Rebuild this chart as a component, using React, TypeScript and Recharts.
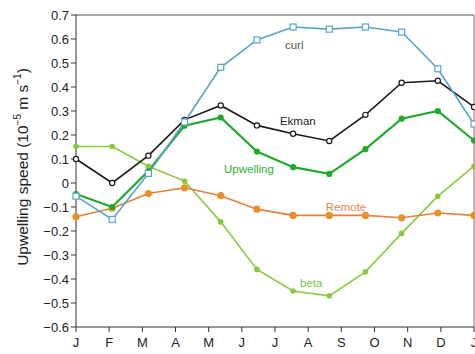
import React from 'react'
import {
  LineChart,
  Line,
  XAxis,
  YAxis,
  ReferenceLine,
  ReferenceDot,
} from 'recharts'

const months = [0, 1, 2, 3, 4, 5, 6, 7, 8, 9, 10, 11]
const tickLabels = ['J', 'F', 'M', 'A', 'M', 'J', 'J', 'A', 'S', 'O', 'N', 'D', 'J']

const curl = [-0.055, -0.152, 0.04, 0.254, 0.482, 0.596, 0.65, 0.641, 0.65, 0.629, 0.476, 0.246]
const ekman = [0.1, 0.0, 0.114, 0.263, 0.323, 0.24, 0.205, 0.175, 0.284, 0.418, 0.426, 0.317]
const upwelling = [-0.046, -0.1, 0.05, 0.239, 0.273, 0.131, 0.066, 0.038, 0.141, 0.268, 0.3, 0.177]
const remote = [-0.141, -0.105, -0.044, -0.02, -0.053, -0.109, -0.135, -0.135, -0.135, -0.145, -0.125, -0.135]
const beta = [0.152, 0.152, 0.07, 0.008, -0.162, -0.36, -0.45, -0.47, -0.37, -0.21, -0.055, 0.07]

const yTicks = [-0.6, -0.5, -0.4, -0.3, -0.2, -0.1, 0, 0.1, 0.2, 0.3, 0.4, 0.5, 0.6, 0.7]

const data = months.map((m, i) => ({
  m,
  curl: curl[i],
  ekman: ekman[i],
  upwelling: upwelling[i],
  remote: remote[i],
  beta: beta[i],
}))

const xTicks = tickLabels.map((_, i) => (i * 11) / 12)

const fmtY = (v: number) => {
  if (Math.abs(v) < 1e-9) return '0'
  return v < 0 ? '\u2212' + Math.abs(v).toFixed(1) : v.toFixed(1)
}

const SquareDot = (props: any) => {
  const { cx, cy } = props
  if (cx == null || cy == null) return null
  return <rect x={cx - 3} y={cy - 3} width={6} height={6} fill="#fff" stroke="#5aa3c9" strokeWidth={1.2} />
}

const font = 'Liberation Sans, Arial, sans-serif'

const txt = (value: string, color: string) => (p: any) => {
  const { viewBox } = p
  const x = viewBox.x + viewBox.width / 2
  const y = viewBox.y + viewBox.height / 2
  return (
    <text x={x} y={y} textAnchor="middle" dominantBaseline="central" fill={color} fontSize={11.5} fontFamily={font}>
      {value}
    </text>
  )
}

export default function App() {
  return (
    <div style={{ position: 'absolute', left: 0, top: 0, width: 475, height: 354, background: '#fff' }}>
      <LineChart width={475} height={354} data={data} margin={{ top: 15, right: 1, bottom: 0, left: 0 }}>
        <XAxis
          dataKey="m"
          type="number"
          domain={[0, 11]}
          ticks={xTicks}
          tickFormatter={(v: number) => tickLabels[Math.round((v * 12) / 11)]}
          height={27}
          tickSize={5}
          tickMargin={6}
          interval={0}
          stroke="#333"
          tick={{ fill: '#222', fontSize: 13, fontFamily: font }}
        />
        <YAxis
          type="number"
          domain={[-0.6, 0.7]}
          ticks={yTicks}
          tickFormatter={fmtY}
          width={76}
          tickSize={5}
          interval={0}
          stroke="#333"
          tick={{ fill: '#222', fontSize: 13, fontFamily: font }}
          label={{
            content: () => (
              <text
                transform="translate(28,167) rotate(-90)"
                textAnchor="middle"
                fill="#222"
                fontSize={15.5}
                fontFamily={font}
              >
                Upwelling speed (10
                <tspan dy={-7} fontSize={10}>{'\u2212'}5</tspan>
                <tspan dy={7}> m s</tspan>
                <tspan dy={-7} fontSize={10}>{'\u2212'}1</tspan>
                <tspan dy={7}>)</tspan>
              </text>
            ),
          }}
        />
        <ReferenceLine y={0.7} stroke="#555" strokeWidth={1} />
        <ReferenceLine x={11} stroke="#777" strokeWidth={1} />
        <Line dataKey="beta" stroke="#8cc83e" strokeWidth={1.6} isAnimationActive={false}
          dot={{ r: 2, fill: '#8cc83e', stroke: '#8cc83e' }} />
        <Line dataKey="remote" stroke="#e0803a" strokeWidth={1.6} isAnimationActive={false}
          dot={{ r: 2.8, fill: '#e8902a', stroke: '#e8902a' }} />
        <Line dataKey="upwelling" stroke="#1faa2c" strokeWidth={2.2} isAnimationActive={false}
          dot={{ r: 2, fill: '#1faa2c', stroke: '#1faa2c' }} />
        <Line dataKey="ekman" stroke="#1a1a1a" strokeWidth={1.6} isAnimationActive={false}
          dot={{ r: 2.6, fill: '#fff', stroke: '#1a1a1a', strokeWidth: 1.2 }} />
        <Line dataKey="curl" stroke="#5aa3c9" strokeWidth={1.6} isAnimationActive={false}
          dot={<SquareDot />} />
        <ReferenceDot x={6.03} y={0.575} r={0} label={{ content: txt('curl', '#555') }} />
        <ReferenceDot x={6.13} y={0.26} r={0} label={{ content: txt('Ekman', '#222') }} />
        <ReferenceDot x={4.78} y={0.06} r={0} label={{ content: txt('Upwelling', '#2cae3a') }} />
        <ReferenceDot x={7.46} y={-0.1} r={0} label={{ content: txt('Remote', '#d98a4a') }} />
        <ReferenceDot x={6.5} y={-0.415} r={0} label={{ content: txt('beta', '#7cc24a') }} />
      </LineChart>
    </div>
  )
}
